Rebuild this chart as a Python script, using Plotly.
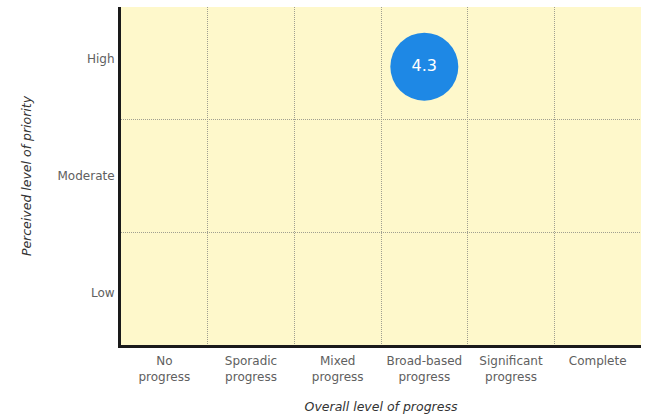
import plotly.graph_objects as go

x_categories = ["No<br>progress", "Sporadic<br>progress", "Mixed<br>progress",
                "Broad-based<br>progress", "Significant<br>progress", "Complete"]
y_categories = ["Low", "Moderate", "High"]
y_label_pos = [0.46, 1.50, 2.54]

bubble_x = [3.5]      # Broad-based progress (cell centre)
bubble_y = [2.47]     # High
bubble_value = [4.3]

FONT = "DejaVu Sans"

fig = go.Figure()
fig.add_trace(go.Scatter(
    x=bubble_x, y=bubble_y, mode="markers+text",
    marker=dict(size=68, color="#1E88E5", line=dict(width=0)),
    text=[str(v) for v in bubble_value],
    textposition="middle center",
    textfont=dict(color="white", size=16, family=FONT),
    hoverinfo="skip", showlegend=False,
))

fig.update_layout(
    width=647, height=419,
    margin=dict(l=121, r=6, t=7, b=68),
    paper_bgcolor="white",
    plot_bgcolor="#FEF8CB",
    font=dict(family=FONT, size=12, color="#5a5a5a"),
    xaxis=dict(
        range=[0, 6], showgrid=False, zeroline=False,
        tickvals=[i + 0.5 for i in range(len(x_categories))],
        ticktext=x_categories, ticks="",
        showline=True, linecolor="#1a1a1a", linewidth=3,
        tickfont=dict(size=12, color="#606060"),
        ticklabelstandoff=3,
        minor=dict(tickvals=[1, 2, 3, 4, 5], showgrid=True,
                   gridcolor="#a09f90", griddash="1px,1px", gridwidth=1, ticks=""),
        title=dict(text="<i>Overall level of progress</i>",
                   font=dict(size=12.5, color="#333333"), standoff=20),
        fixedrange=True,
    ),
    yaxis=dict(
        range=[0, 3], showgrid=False, zeroline=False,
        tickvals=y_label_pos,
        ticktext=y_categories, ticks="",
        showline=True, linecolor="#1a1a1a", linewidth=3,
        tickfont=dict(size=12, color="#606060"),
        ticklabelstandoff=1,
        minor=dict(tickvals=[1, 2], showgrid=True,
                   gridcolor="#a09f90", griddash="1px,1px", gridwidth=1, ticks=""),
        title=dict(text="<i>Perceived level of priority</i>",
                   font=dict(size=12.5, color="#333333"), standoff=24),
        fixedrange=True,
    ),
)

fig.write_html("out.html")
